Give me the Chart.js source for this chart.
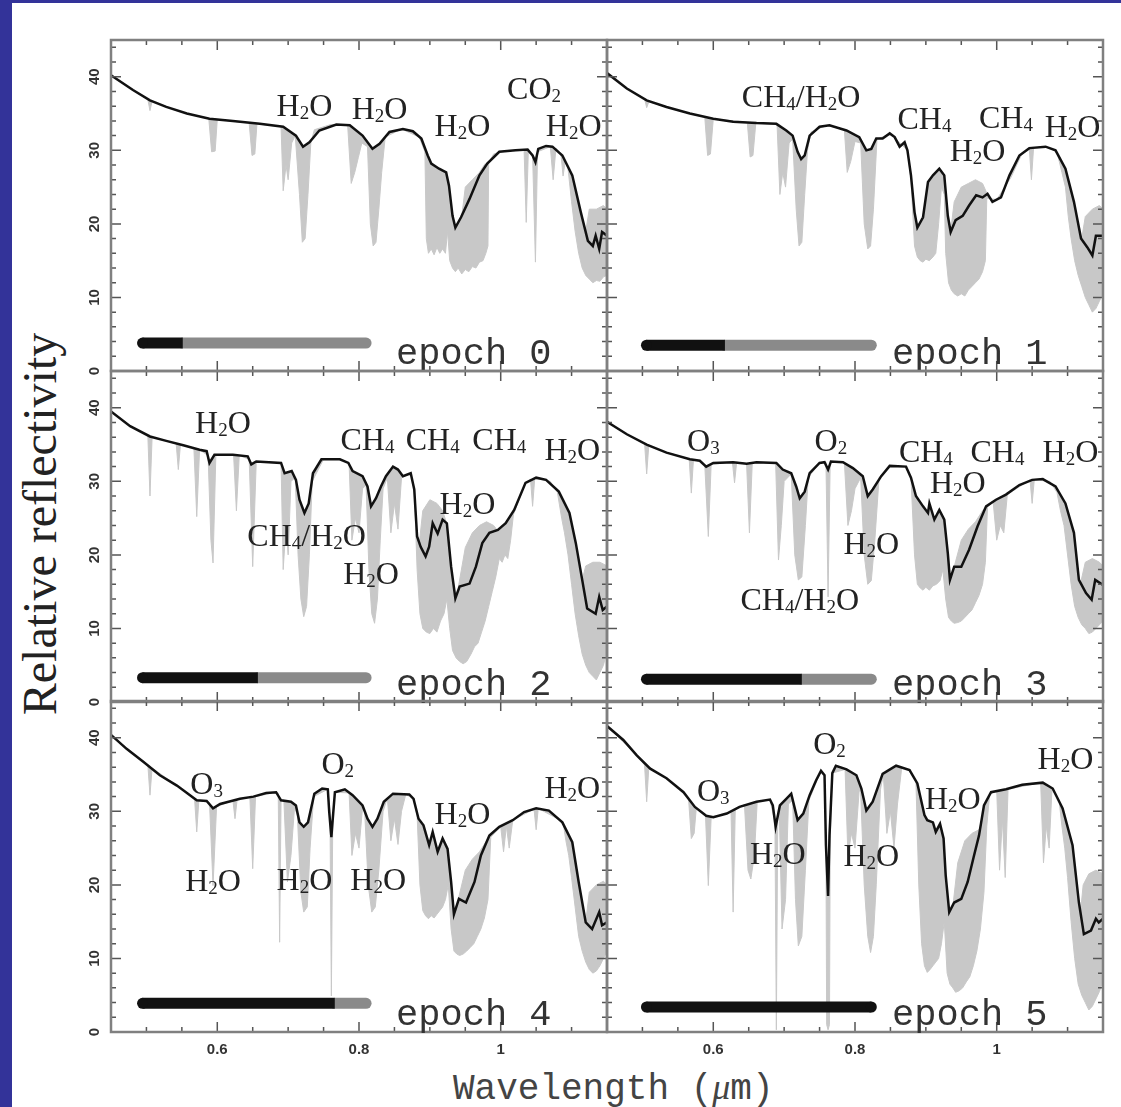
<!DOCTYPE html>
<html>
<head>
<meta charset="utf-8">
<script src="https://cdn.jsdelivr.net/npm/chart.js"></script>
<style>
  body { margin: 0; background: #fff; }
  #page { position: relative; width: 1121px; height: 1107px; overflow: hidden; background: #fff; }
  .edge { position: absolute; background: #333399; }
  canvas { position: absolute; }
  #ytitle {
    position: absolute; left: -208px; top: 494px; width: 500px; height: 60px; line-height: 60px;
    text-align: center; transform: rotate(-90deg);
    font: 48px "Liberation Serif", "Times New Roman", serif; color: #222;
  }
  #xtitle {
    position: absolute; left: 453px; top: 1066px; height: 40px; line-height: 40px; white-space: nowrap;
    font: 36px "Liberation Mono", "Courier New", monospace; color: #444;
  }
  #xtitle i { font-family: "Liberation Serif", serif; }
</style>
</head>
<body>
<div id="page">
  <div class="edge" style="left:0;top:0;width:12px;height:1107px"></div>
  <div class="edge" style="left:0;top:0;width:1121px;height:3px"></div>
  <div id="ytitle">Relative reflectivity</div>
  <div id="xtitle">Wavelength (<i>μ</i>m)</div>
</div>
<script>
// axis ticks
const xTickValues = [0.6, 0.8, 1.0];
const xTickLabels = ['0.6', '0.8', '1'];
const yTickValues = [0, 10, 20, 30, 40];

// smoothed (low resolution) spectra, [wavelength um, relative reflectivity]
const smooth0 = [[0.45,40.2],[0.481,38.2],[0.505,36.8],[0.528,35.9],[0.557,35.0],[0.589,34.3],[0.622,34.0],[0.66,33.6],[0.693,33.2],[0.711,32.0],[0.721,30.5],[0.73,31.1],[0.744,32.7],[0.768,33.5],[0.787,33.4],[0.805,32.0],[0.819,30.2],[0.829,30.9],[0.843,32.5],[0.862,32.9],[0.876,32.6],[0.888,31.6],[0.897,29.3],[0.902,28.2],[0.913,27.5],[0.923,27.0],[0.927,25.2],[0.932,21.1],[0.936,19.5],[0.944,20.9],[0.956,23.4],[0.97,26.6],[0.981,28.2],[0.998,29.8],[1.021,30.0],[1.038,30.1],[1.045,29.3],[1.049,28.4],[1.053,30.2],[1.064,30.6],[1.073,30.5],[1.087,29.3],[1.101,26.6],[1.113,21.6],[1.123,17.7],[1.13,17.0],[1.134,18.4],[1.139,16.6],[1.143,18.9],[1.15,18.4]];
const smooth1 = [[0.45,40.5],[0.478,38.4],[0.506,36.8],[0.534,35.9],[0.567,35.0],[0.6,34.3],[0.628,33.9],[0.661,33.7],[0.689,33.6],[0.703,32.7],[0.712,32.0],[0.719,29.8],[0.724,28.8],[0.729,29.3],[0.736,32.0],[0.75,33.2],[0.764,33.4],[0.788,32.7],[0.806,31.8],[0.816,30.0],[0.823,30.2],[0.83,31.6],[0.839,31.6],[0.849,32.3],[0.856,31.8],[0.863,30.5],[0.87,31.1],[0.874,30.0],[0.879,26.6],[0.884,21.6],[0.888,19.5],[0.896,20.9],[0.903,25.7],[0.91,26.6],[0.919,27.5],[0.926,26.6],[0.931,21.1],[0.935,18.9],[0.942,20.5],[0.952,21.1],[0.961,22.5],[0.971,23.9],[0.98,23.6],[0.987,24.1],[0.994,23.0],[1.006,23.6],[1.018,26.6],[1.032,29.3],[1.046,30.3],[1.069,30.5],[1.083,30.0],[1.097,27.5],[1.109,23.0],[1.119,18.0],[1.128,16.8],[1.135,15.7],[1.14,18.4],[1.15,18.4]];
const smooth2 = [[0.45,39.5],[0.477,37.5],[0.505,36.1],[0.528,35.5],[0.552,34.9],[0.575,34.3],[0.585,34.1],[0.589,32.5],[0.596,33.6],[0.622,33.6],[0.643,33.4],[0.648,32.3],[0.655,32.7],[0.69,32.5],[0.695,31.1],[0.705,31.4],[0.711,30.2],[0.716,27.5],[0.723,25.7],[0.729,27.0],[0.735,31.1],[0.747,33.0],[0.773,33.0],[0.785,32.5],[0.791,31.4],[0.805,30.7],[0.812,29.3],[0.817,26.6],[0.824,27.7],[0.831,29.3],[0.838,30.7],[0.848,32.0],[0.855,31.6],[0.862,30.7],[0.873,31.1],[0.878,28.9],[0.882,22.5],[0.887,21.1],[0.894,19.8],[0.899,21.1],[0.904,24.3],[0.911,22.9],[0.918,24.8],[0.924,24.3],[0.93,18.4],[0.936,14.1],[0.942,15.7],[0.956,16.1],[0.965,18.4],[0.974,21.6],[0.984,23.0],[0.996,23.4],[1.007,24.3],[1.019,26.1],[1.035,29.8],[1.05,30.5],[1.064,30.2],[1.082,28.6],[1.097,25.7],[1.106,21.6],[1.115,16.6],[1.122,12.7],[1.134,12.0],[1.139,14.3],[1.144,12.5],[1.15,13.0]];
const smooth3 = [[0.45,38.1],[0.478,36.4],[0.506,35.0],[0.534,33.9],[0.567,33.0],[0.581,32.8],[0.59,32.0],[0.6,32.5],[0.628,32.6],[0.647,32.4],[0.661,32.6],[0.689,32.5],[0.698,31.6],[0.71,31.1],[0.717,29.3],[0.722,27.7],[0.729,28.6],[0.736,31.1],[0.75,32.5],[0.757,32.6],[0.762,31.6],[0.766,32.7],[0.783,32.6],[0.797,31.8],[0.811,30.7],[0.818,28.0],[0.825,28.9],[0.837,30.7],[0.849,32.1],[0.872,32.0],[0.879,30.5],[0.886,28.0],[0.896,26.6],[0.903,25.7],[0.905,27.0],[0.912,24.8],[0.919,26.1],[0.926,24.8],[0.931,20.2],[0.934,16.6],[0.94,18.4],[0.95,18.4],[0.961,20.7],[0.973,23.9],[0.985,26.6],[0.999,27.5],[1.013,28.2],[1.032,29.5],[1.05,30.2],[1.065,30.3],[1.083,29.3],[1.097,27.0],[1.109,23.0],[1.116,16.6],[1.126,14.8],[1.134,13.9],[1.139,16.6],[1.15,15.9]];
const smooth4 = [[0.45,40.4],[0.472,38.5],[0.496,36.7],[0.519,34.9],[0.543,33.5],[0.571,31.5],[0.585,31.4],[0.594,30.4],[0.604,31.0],[0.632,31.7],[0.651,32.0],[0.669,32.5],[0.683,32.6],[0.69,31.5],[0.704,31.3],[0.711,30.8],[0.716,28.5],[0.722,27.9],[0.728,28.5],[0.737,32.4],[0.748,33.1],[0.756,33.0],[0.758,29.9],[0.761,26.5],[0.763,29.0],[0.766,32.6],[0.78,33.0],[0.791,32.2],[0.805,30.8],[0.812,29.0],[0.819,27.9],[0.826,29.0],[0.835,31.3],[0.848,32.4],[0.871,32.3],[0.877,31.7],[0.884,29.0],[0.891,28.1],[0.899,25.4],[0.904,27.2],[0.911,24.5],[0.918,26.3],[0.925,24.9],[0.93,20.4],[0.934,16.0],[0.941,18.1],[0.951,17.6],[0.963,20.4],[0.972,24.0],[0.984,26.7],[0.998,27.9],[1.017,28.8],[1.033,29.9],[1.05,30.4],[1.068,30.1],[1.087,28.5],[1.101,25.8],[1.11,20.4],[1.12,14.9],[1.129,14.0],[1.139,16.3],[1.143,14.5],[1.15,14.9]];
const smooth5 = [[0.45,41.6],[0.473,39.7],[0.492,37.6],[0.511,35.8],[0.534,34.5],[0.558,32.6],[0.574,30.6],[0.59,29.4],[0.6,29.2],[0.619,29.7],[0.637,30.6],[0.661,31.3],[0.68,31.6],[0.684,30.8],[0.688,27.9],[0.694,30.8],[0.703,31.7],[0.71,32.4],[0.715,30.4],[0.719,28.8],[0.727,29.7],[0.736,32.2],[0.745,34.2],[0.752,35.5],[0.757,34.9],[0.759,25.4],[0.762,18.5],[0.764,26.7],[0.768,35.2],[0.773,36.2],[0.788,35.7],[0.802,34.9],[0.809,33.1],[0.816,30.1],[0.825,31.3],[0.839,35.1],[0.858,36.2],[0.877,35.6],[0.888,33.8],[0.898,29.5],[0.902,28.8],[0.91,28.5],[0.914,27.2],[0.92,28.3],[0.925,26.3],[0.928,21.3],[0.933,16.3],[0.94,17.6],[0.95,18.1],[0.959,20.4],[0.968,24.0],[0.975,26.7],[0.982,30.8],[0.992,32.6],[1.013,33.0],[1.036,33.6],[1.065,33.9],[1.079,33.1],[1.093,30.4],[1.107,25.4],[1.116,17.6],[1.123,13.3],[1.133,13.8],[1.14,15.4],[1.144,14.9],[1.15,15.4]];

// high resolution spectra (grey): absorption lines and lower edge of the dense bands
const hires0 = [[0.45,40.2],[0.481,38.2],[0.502,36.9],[0.505,35.4],[0.508,36.7],[0.528,35.9],[0.557,35.0],[0.588,34.3],[0.592,29.8],[0.597,29.9],[0.6,34.2],[0.645,33.7],[0.649,29.3],[0.653,29.5],[0.656,33.6],[0.69,33.2],[0.693,24.5],[0.697,28],[0.7,26],[0.705,31],[0.71,32],[0.716,24],[0.72,17.5],[0.724,18],[0.728,24],[0.732,31],[0.737,32.8],[0.76,33.5],[0.784,33.4],[0.789,25.5],[0.794,27],[0.799,29],[0.804,31],[0.812,30.5],[0.816,20],[0.82,17],[0.824,17.5],[0.828,22],[0.832,27],[0.837,31.8],[0.86,32.9],[0.885,31.8],[0.893,29.8],[0.895,18],[0.898,16],[0.902,16.6],[0.906,15.8],[0.91,16.8],[0.914,16],[0.918,16.6],[0.922,16],[0.925,19],[0.928,15],[0.932,14],[0.936,13.5],[0.94,14],[0.945,13.2],[0.95,13.8],[0.955,13.5],[0.96,14.2],[0.965,14],[0.97,14.8],[0.975,15],[0.979,16],[0.982,17],[0.983,28.3],[0.99,29.5],[1.0,29.8],[1.02,30],[1.033,30],[1.036,20.2],[1.039,30],[1.045,29.3],[1.049,14.8],[1.052,29.8],[1.07,30.5],[1.074,26],[1.078,30.3],[1.085,29.5],[1.088,26.5],[1.091,28.5],[1.095,27.5],[1.1,23],[1.105,19],[1.11,16],[1.115,14],[1.12,13],[1.125,12.5],[1.13,12],[1.135,12.3],[1.14,12.2],[1.145,12.8],[1.15,13]];
const hires1 = [[0.45,40.5],[0.478,38.4],[0.503,37],[0.506,35.8],[0.509,36.6],[0.534,35.9],[0.567,35],[0.588,34.5],[0.592,29.3],[0.596,29.5],[0.6,34.3],[0.648,33.8],[0.652,29.1],[0.656,29.3],[0.66,33.7],[0.69,33.5],[0.694,24],[0.698,27],[0.702,25],[0.707,31],[0.712,31.5],[0.717,22],[0.721,17],[0.725,17.5],[0.729,24],[0.733,30],[0.738,32.5],[0.76,33.4],[0.785,32.8],[0.789,27],[0.794,28.5],[0.8,31.2],[0.808,31],[0.813,20],[0.818,16.6],[0.822,17],[0.826,22],[0.831,31.5],[0.85,32.3],[0.874,30],[0.879,26],[0.884,17],[0.888,15.5],[0.892,15],[0.896,14.8],[0.9,15.2],[0.905,15],[0.91,15.5],[0.914,16],[0.918,20],[0.922,25],[0.926,24],[0.928,16],[0.932,12],[0.936,11],[0.94,10.5],[0.945,10.2],[0.95,10.5],[0.955,10.2],[0.96,11],[0.965,11.5],[0.97,12],[0.975,12.5],[0.98,13.5],[0.984,15],[0.986,23.5],[1.0,23.3],[1.02,26.3],[1.035,29.4],[1.046,30.2],[1.049,26],[1.052,30.3],[1.07,30.5],[1.085,29.8],[1.092,27],[1.097,25],[1.101,21],[1.105,18],[1.11,15],[1.115,13],[1.12,11.5],[1.125,10],[1.13,9],[1.135,8],[1.14,8.5],[1.145,9.5],[1.15,10.5]];
const hires2 = [[0.45,39.5],[0.477,37.5],[0.502,36.2],[0.505,28],[0.508,36],[0.528,35.5],[0.542,35.1],[0.545,31.6],[0.548,35],[0.567,34.5],[0.571,25.2],[0.575,34.3],[0.587,33.5],[0.591,22],[0.594,18.9],[0.598,33.6],[0.623,33.6],[0.627,26],[0.631,33.5],[0.645,33],[0.65,18.4],[0.655,32.7],[0.69,32.5],[0.693,18],[0.697,24],[0.7,20],[0.704,30],[0.71,30.5],[0.714,20],[0.718,14],[0.722,11.6],[0.726,13],[0.73,20],[0.734,30],[0.75,33],[0.773,33],[0.786,32.4],[0.79,22],[0.795,25],[0.8,23],[0.805,29],[0.81,29.5],[0.814,18],[0.818,12],[0.822,10.7],[0.826,14],[0.83,22],[0.834,29],[0.84,30.5],[0.845,23],[0.85,27],[0.855,23.5],[0.86,30.5],[0.873,31.1],[0.878,28.9],[0.882,18],[0.886,12],[0.89,10],[0.895,9.5],[0.9,9.3],[0.905,10],[0.91,9.5],[0.915,11],[0.92,12],[0.924,14],[0.928,10],[0.932,7],[0.937,6],[0.942,5.5],[0.947,5.2],[0.952,5.5],[0.958,6.5],[0.963,7.5],[0.968,8],[0.973,9.5],[0.978,11],[0.983,13],[0.988,15],[0.993,17],[0.998,19.5],[1.002,19],[1.006,20],[1.01,19.5],[1.014,22],[1.018,25.5],[1.035,29.8],[1.042,30.3],[1.045,26.6],[1.048,30.4],[1.07,30],[1.08,28.5],[1.086,25],[1.09,23],[1.095,20],[1.1,16],[1.105,12],[1.11,9],[1.115,6.5],[1.12,5],[1.125,4],[1.13,3.5],[1.135,3],[1.14,4],[1.145,5],[1.15,7]];
const hires3 = [[0.45,38.1],[0.478,36.4],[0.503,35.2],[0.506,31],[0.509,34.9],[0.534,33.9],[0.566,33],[0.569,28.4],[0.572,32.9],[0.581,32.8],[0.588,32.2],[0.593,22.5],[0.597,32.3],[0.627,32.6],[0.63,29.8],[0.633,32.6],[0.647,32.4],[0.651,23],[0.655,32.5],[0.688,32.5],[0.692,19.3],[0.696,24],[0.7,30],[0.71,31],[0.715,20],[0.72,16.6],[0.725,17],[0.73,24],[0.734,30.5],[0.75,32.5],[0.759,32.6],[0.762,14.3],[0.765,32.6],[0.785,32.6],[0.79,24],[0.795,26],[0.8,29],[0.808,30.5],[0.813,20],[0.818,16],[0.823,16.5],[0.828,22],[0.834,30.5],[0.849,32.1],[0.872,32],[0.879,30.5],[0.884,20],[0.888,16],[0.892,15.5],[0.896,15.2],[0.9,15.6],[0.905,15.2],[0.91,15.8],[0.915,16],[0.92,16.5],[0.924,18],[0.928,14],[0.932,11.5],[0.936,11],[0.94,10.7],[0.945,10.8],[0.95,11],[0.955,11.5],[0.96,12],[0.965,12.5],[0.97,13.5],[0.975,14.5],[0.98,16],[0.984,19],[0.987,26.5],[0.995,27.2],[1.0,22],[1.005,24],[1.01,23],[1.015,28.2],[1.047,30.2],[1.05,27],[1.053,30.2],[1.075,30],[1.085,28.5],[1.09,26],[1.095,24],[1.1,20],[1.105,16],[1.11,13],[1.115,11.5],[1.12,10.5],[1.125,10],[1.13,9.3],[1.135,9.5],[1.14,10],[1.145,10.5],[1.15,11]];
const hires4 = [[0.45,40.4],[0.496,36.7],[0.502,36.3],[0.505,32.2],[0.508,35.9],[0.543,33.5],[0.568,31.6],[0.571,27.2],[0.574,31.5],[0.589,31.2],[0.594,19.9],[0.599,30.6],[0.622,31.5],[0.625,29],[0.628,31.6],[0.646,31.9],[0.65,22.2],[0.654,32],[0.683,32.6],[0.686,32.5],[0.688,12.2],[0.69,31.5],[0.694,31.4],[0.699,20.4],[0.704,24],[0.709,30.5],[0.713,29.5],[0.718,19],[0.722,16.3],[0.727,17],[0.731,25],[0.736,32],[0.756,33],[0.759,30],[0.761,4.9],[0.763,29],[0.766,32.6],[0.786,32.5],[0.79,24],[0.795,27],[0.8,25],[0.805,30.5],[0.808,30],[0.813,20],[0.818,16.3],[0.823,17],[0.828,22],[0.834,30],[0.84,31.8],[0.845,26],[0.85,29],[0.855,25.5],[0.86,30],[0.866,32.3],[0.877,31.7],[0.882,29.5],[0.886,20],[0.89,16.5],[0.894,15.8],[0.898,15.4],[0.902,15.8],[0.906,15.5],[0.91,16],[0.914,16.5],[0.918,17],[0.922,18],[0.926,20],[0.93,14],[0.934,11],[0.938,10.6],[0.942,10.4],[0.947,10.6],[0.952,11],[0.957,11.5],[0.962,12],[0.967,13],[0.972,14],[0.977,15.5],[0.982,18],[0.986,26.5],[1.0,27.9],[1.004,24.5],[1.008,28],[1.012,25],[1.017,28.8],[1.047,30.3],[1.05,27.5],[1.053,30.4],[1.08,29],[1.088,28.5],[1.092,26],[1.096,24],[1.1,21],[1.105,17],[1.11,13],[1.115,11],[1.12,9.5],[1.125,8.5],[1.13,8],[1.135,8.3],[1.14,9],[1.145,10],[1.15,11]];
const hires5 = [[0.45,41.6],[0.492,37.6],[0.503,36.3],[0.506,31.3],[0.509,35.9],[0.534,34.5],[0.558,32.6],[0.565,31.8],[0.569,26.3],[0.573,27],[0.576,30.4],[0.589,29.4],[0.593,19.9],[0.597,29.2],[0.619,29.7],[0.625,30],[0.628,16.3],[0.631,30.2],[0.644,30.9],[0.649,22],[0.653,20.8],[0.658,24],[0.662,31.3],[0.68,31.6],[0.687,28.5],[0.689,0.3],[0.691,29],[0.693,30.5],[0.697,14],[0.702,18],[0.706,31],[0.712,31.5],[0.716,18],[0.72,11.7],[0.725,13],[0.73,22],[0.735,31.5],[0.752,35.5],[0.757,34.9],[0.759,25],[0.76,1],[0.762,0.3],[0.764,1],[0.765,26],[0.768,35.2],[0.786,35.7],[0.79,24],[0.795,27],[0.8,25],[0.806,33],[0.808,32.5],[0.813,20],[0.818,13],[0.822,10.8],[0.826,13],[0.83,20],[0.836,33],[0.84,35],[0.845,27],[0.85,30],[0.855,25],[0.86,31],[0.866,36],[0.877,35.6],[0.886,34],[0.89,20],[0.894,12],[0.898,9],[0.902,8.1],[0.906,8.5],[0.91,9],[0.914,9.5],[0.918,10],[0.922,12],[0.926,15],[0.93,8],[0.934,6.5],[0.938,6],[0.942,5.4],[0.947,5.6],[0.952,6],[0.957,6.8],[0.962,7.5],[0.967,9],[0.972,11],[0.977,14],[0.982,19],[0.986,28],[0.99,32.3],[1.0,32.8],[1.004,22],[1.008,29],[1.012,21],[1.016,33],[1.062,33.9],[1.066,23],[1.07,28],[1.074,25],[1.078,33],[1.088,31.5],[1.092,28],[1.096,25],[1.1,21],[1.105,15],[1.11,10],[1.115,6.5],[1.12,5],[1.125,4],[1.13,3],[1.135,3.5],[1.14,4.5],[1.145,5.5],[1.15,7]];

// upper edge of the grey bands where they rise above the smoothed curve (null = gap)
const hiresTop0 = [[0.945,21],[0.95,25],[0.96,26],[0.97,27],[0.978,28.2],[0.98,null],[1.12,19],[1.125,22],[1.135,22],[1.145,22.5],[1.15,22]];
const hiresTop1 = [[0.935,19],[0.94,23],[0.95,25],[0.96,25.5],[0.97,26],[0.98,25.5],[0.986,24.2],[0.99,null],[1.12,18],[1.125,21],[1.135,22],[1.145,22.5],[1.15,22]];
const hiresTop2 = [[0.885,21.5],[0.89,26],[0.9,27.5],[0.91,27],[0.918,26],[0.923,24.5],[0.925,null],[0.94,15.5],[0.95,21],[0.96,23],[0.97,24],[0.98,24.5],[0.99,24],[0.994,23.5],[1.0,null],[1.115,16.6],[1.12,18.5],[1.13,19],[1.14,19],[1.15,18.5]];
const hiresTop3 = [[0.94,18.4],[0.95,22],[0.96,23.5],[0.97,24.5],[0.98,26],[0.985,26.6],[0.99,null],[1.118,16],[1.125,19],[1.135,19.5],[1.145,19],[1.15,18.5]];
const hiresTop4 = [[0.94,18],[0.95,22],[0.96,23.5],[0.97,24.5],[0.98,26],[0.984,26.7],[0.99,null],[1.12,15],[1.125,19],[1.135,20],[1.145,20.5],[1.15,20]];
const hiresTop5 = [[0.938,17],[0.945,23],[0.955,26],[0.965,27],[0.975,27.5],[0.98,29],[0.985,null],[1.118,16],[1.122,20],[1.13,21.5],[1.14,22],[1.15,21.5]];

// time bars: fraction elapsed, level, wavelength span per column
const barFraction = [0.18, 0.349, 0.516, 0.691, 0.86, 1];
const barLevel = [3.8, 3.5, 3.3, 3.1, 3.9, 3.4];
const barSpanLeft = [0.4945, 0.81];
const barSpanRight = [0.5057, 0.823];

// feature labels: [text, wavelength, reflectivity]
const notes0 = [['H2O',0.723,36.1],['H2O',0.829,35.7],['H2O',0.946,33.4],['CO2',1.047,38.4],['H2O',1.103,33.4]];
const notes1 = [['CH4/H2O',0.724,37.3],['CH4',0.898,34.3],['H2O',0.973,30.0],['CH4',1.013,34.5],['H2O',1.107,33.2]];
const notes2 = [['H2O',0.608,38.0],['CH4',0.812,35.7],['CH4',0.904,35.7],['CH4',0.998,35.7],['H2O',1.101,34.3],['H2O',0.953,27.0],['CH4/H2O',0.726,22.7],['H2O',0.817,17.5]];
const notes3 = [['O3',0.586,35.5],['O2',0.766,35.5],['CH4',0.9,34.1],['CH4',1.001,34.1],['H2O',1.104,34.1],['H2O',0.945,29.8],['H2O',0.823,21.6],['CH4/H2O',0.722,13.9]];
const notes4 = [['O3',0.585,33.8],['O2',0.77,36.5],['H2O',0.946,29.7],['H2O',1.101,33.3],['H2O',0.594,20.6],['H2O',0.723,20.8],['H2O',0.827,20.8]];
const notes5 = [['O2',0.764,39.2],['O3',0.6,32.9],['H2O',1.097,37.2],['H2O',0.938,31.7],['H2O',0.691,24.2],['H2O',0.823,24.0]];

const smooth = [smooth0, smooth1, smooth2, smooth3, smooth4, smooth5];
const hires = [hires0, hires1, hires2, hires3, hires4, hires5];
const hiresTop = [hiresTop0, hiresTop1, hiresTop2, hiresTop3, hiresTop4, hiresTop5];
const notes = [notes0, notes1, notes2, notes3, notes4, notes5];

// layout
const colLeft = [111, 607];
const rowTop = [40, 371, 701];
const PW = 496, PH = 331;
const PAD = { left: 50, right: 8, top: 8, bottom: 40 };
const GREY = 'rgb(200,200,200)';

function drawFormula(ctx, text, cx, cy) {
  const big = '32px "Liberation Serif", "Times New Roman", serif';
  const small = '19px "Liberation Serif", "Times New Roman", serif';
  const parts = text.split(/(\d)/).filter(s => s);
  let w = 0;
  parts.forEach(s => { ctx.font = /\d/.test(s) ? small : big; w += ctx.measureText(s).width; });
  let px = cx - w / 2;
  const base = cy + 10.5;
  ctx.textAlign = 'left';
  ctx.textBaseline = 'alphabetic';
  ctx.fillStyle = '#222';
  parts.forEach(s => {
    const sub = /\d/.test(s);
    ctx.font = sub ? small : big;
    ctx.fillText(s, px, base + (sub ? 3 : 0));
    px += ctx.measureText(s).width;
  });
}

const framePlugin = {
  id: 'frame',
  afterDatasetsDraw(chart, args, o) {
    const { ctx, chartArea: a } = chart;
    const x = chart.scales.x, y = chart.scales.y;
    ctx.save();
    o.notes.forEach(([t, wl, r]) => drawFormula(ctx, t, x.getPixelForValue(wl), y.getPixelForValue(r)));

    // ticks, inward on all four sides
    ctx.strokeStyle = '#555';
    ctx.lineWidth = 1.5;
    ctx.beginPath();
    for (let k = 10; k <= 22; k++) {
      const wl = k / 20;
      const px = x.getPixelForValue(wl);
      const len = xTickValues.some(v => Math.abs(v - wl) < 1e-6) ? 10 : 5;
      ctx.moveTo(px, a.bottom); ctx.lineTo(px, a.bottom - len);
      ctx.moveTo(px, a.top); ctx.lineTo(px, a.top + len);
    }
    for (let k = 1; k <= 22; k++) {
      const v = k * 2;
      const py = y.getPixelForValue(v);
      const len = v % 10 === 0 ? 10 : 5;
      ctx.moveTo(a.left, py); ctx.lineTo(a.left + len, py);
      ctx.moveTo(a.right, py); ctx.lineTo(a.right - len, py);
    }
    ctx.stroke();

    ctx.strokeStyle = '#808080';
    ctx.lineWidth = 2.5;
    ctx.strokeRect(a.left, a.top, a.width, a.height);

    ctx.fillStyle = '#333';
    ctx.font = 'bold 15px "Liberation Sans", Arial, sans-serif';
    ctx.textAlign = 'center';
    ctx.textBaseline = 'middle';
    if (o.showX) {
      xTickValues.forEach((v, i) => ctx.fillText(xTickLabels[i], x.getPixelForValue(v), a.bottom + 18));
    }
    if (o.showY) {
      yTickValues.forEach(v => {
        ctx.save();
        ctx.translate(a.left - 16, y.getPixelForValue(v));
        ctx.rotate(-Math.PI / 2);
        ctx.fillText(String(v), 0, 0);
        ctx.restore();
      });
    }

    ctx.font = '37px "Liberation Mono", "Courier New", monospace';
    ctx.fillStyle = '#333';
    ctx.textBaseline = 'alphabetic';
    ctx.fillText('epoch ' + o.epoch, x.getPixelForValue(0.962), y.getPixelForValue(1.0));
    ctx.restore();
  }
};

const page = document.getElementById('page');

smooth.forEach((line, i) => {
  const col = i % 2, row = Math.floor(i / 2);
  const cv = document.createElement('canvas');
  const W = PW + PAD.left + PAD.right, H = PH + PAD.top + PAD.bottom;
  cv.width = W; cv.height = H;
  cv.style.width = W + 'px'; cv.style.height = H + 'px';
  cv.style.left = (colLeft[col] - PAD.left) + 'px';
  cv.style.top = (rowTop[row] - PAD.top) + 'px';
  page.appendChild(cv);

  const span = col === 0 ? barSpanLeft : barSpanRight;
  const frac = barFraction[i];
  const lvl = barLevel[i];
  const junction = span[0] + frac * (span[1] - span[0]);

  new Chart(cv, {
    type: 'line',
    data: {
      datasets: [
        { label: 'high resolution', data: hires[i], borderColor: GREY, backgroundColor: GREY,
          borderWidth: 1, fill: 1, pointRadius: 0, order: 5 },
        { label: 'smoothed', data: line, borderColor: '#111', borderWidth: 2.5,
          fill: false, pointRadius: 0, order: 3 },
        { label: 'high resolution (upper)', data: hiresTop[i], borderColor: GREY, backgroundColor: GREY,
          borderWidth: 1, fill: 1, pointRadius: 0, order: 6 },
        { label: 'time remaining', data: frac >= 1 ? [] : [[junction, lvl], [span[1], lvl]],
          borderColor: '#8a8a8a', borderWidth: 11, borderCapStyle: 'round',
          fill: false, pointRadius: 0, order: 2 },
        { label: 'time elapsed', data: [[span[0], lvl], [junction, lvl]],
          borderColor: '#111', borderWidth: 11, borderCapStyle: 'butt', fill: false,
          pointRadius: c => (c.dataIndex === 0 || frac >= 1) ? 5.5 : 0,
          pointBackgroundColor: '#111', pointBorderWidth: 0, order: 1 }
      ]
    },
    options: {
      responsive: false,
      maintainAspectRatio: false,
      animation: false,
      devicePixelRatio: 1,
      events: [],
      layout: { padding: PAD },
      scales: {
        x: { type: 'linear', min: 0.45, max: 1.15, display: false },
        y: { type: 'linear', min: 0, max: 45, display: false }
      },
      plugins: {
        legend: { display: false },
        tooltip: { enabled: false },
        frame: { notes: notes[i], epoch: i, showX: row === 2, showY: col === 0 }
      }
    },
    plugins: [framePlugin]
  });
});
</script>
</body>
</html>
